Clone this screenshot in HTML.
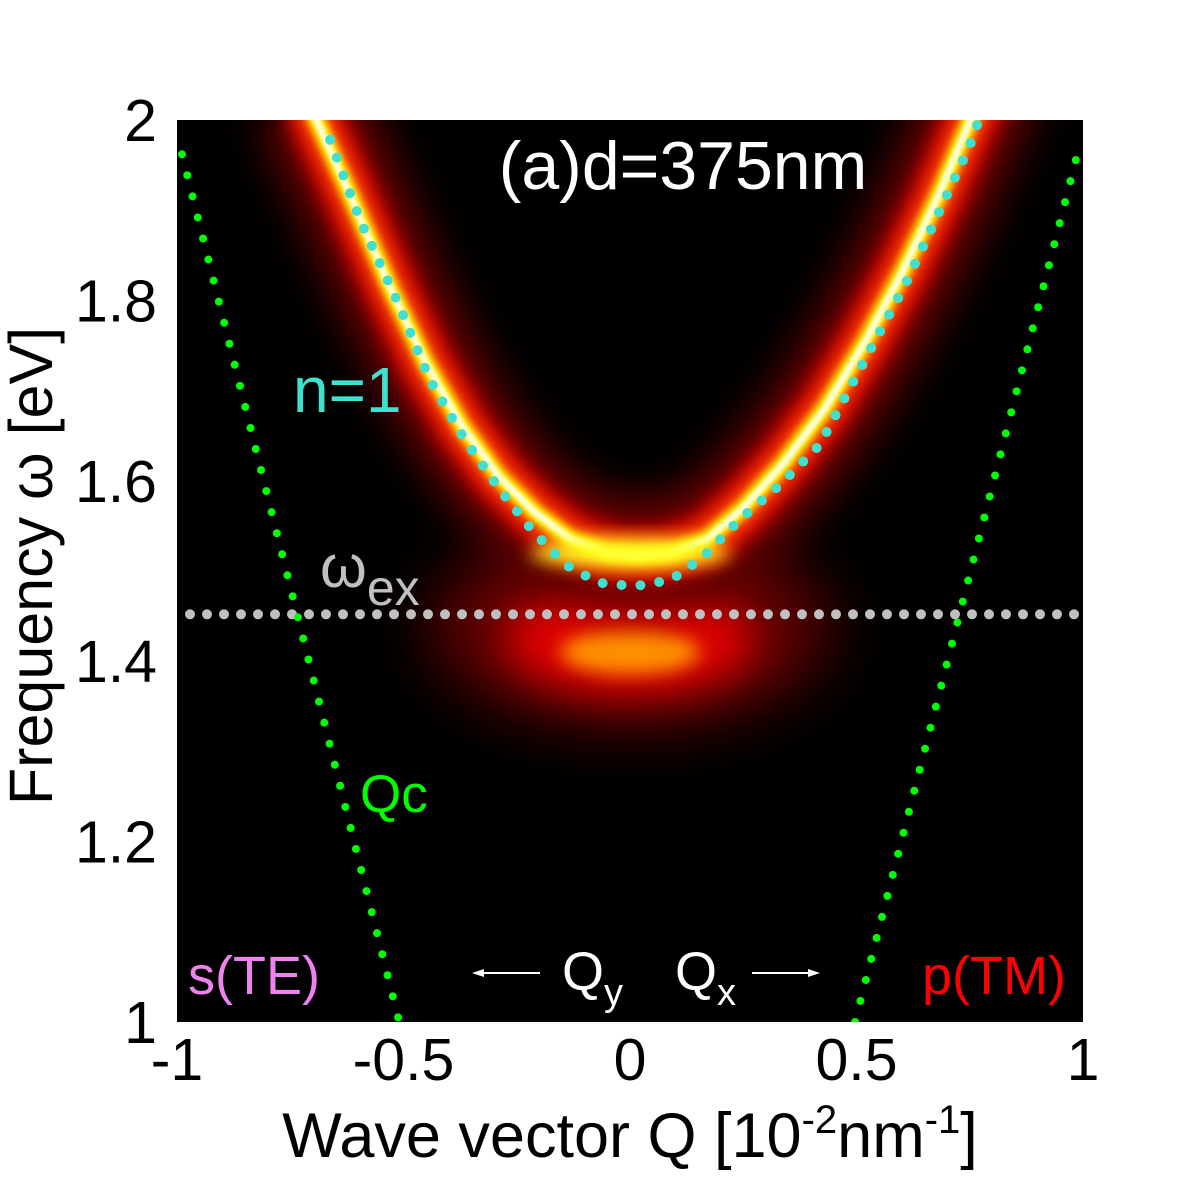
<!DOCTYPE html>
<html><head><meta charset="utf-8"><style>
html,body{margin:0;padding:0;background:#fff;}
svg{display:block;font-family:"Liberation Sans",sans-serif;}
</style></head><body>
<svg id="chart" width="1200" height="1200" viewBox="0 0 1200 1200">
<defs>
<filter id="b30" x="-50%" y="-50%" width="200%" height="200%"><feGaussianBlur stdDeviation="30"/></filter>
<filter id="b20" x="-50%" y="-50%" width="200%" height="200%"><feGaussianBlur stdDeviation="20"/></filter>
<filter id="b10" x="-50%" y="-50%" width="200%" height="200%"><feGaussianBlur stdDeviation="9"/></filter>
<filter id="b4" x="-50%" y="-50%" width="200%" height="200%"><feGaussianBlur stdDeviation="4"/></filter>
<filter id="b2" x="-50%" y="-50%" width="200%" height="200%"><feGaussianBlur stdDeviation="2"/></filter>
<clipPath id="clip"><rect x="177" y="120" width="906" height="902"/></clipPath>
</defs>
<rect x="177" y="120" width="906" height="902" fill="#000"/>
<g id="heat" clip-path="url(#clip)"></g>
<g id="marks" clip-path="url(#clip)"></g>
<g id="ticks" font-size="59" fill="#000"></g>
<text x="630" y="1157" font-size="63" text-anchor="middle">Wave vector Q [10<tspan dy="-24" font-size="40">-2</tspan><tspan dy="24">nm</tspan><tspan dy="-24" font-size="40">-1</tspan><tspan dy="24">]</tspan></text>
<text transform="translate(52,566) rotate(-90)" font-size="61" text-anchor="middle">Frequency ω [eV]</text>
<text x="683" y="189" font-size="68" fill="#fff" text-anchor="middle">(a)d=375nm</text>
<text x="293" y="412" font-size="64" fill="#40e0d0">n=1</text>
<text x="320" y="587" font-size="60" fill="#c0c0c0">ω<tspan dy="18" font-size="50">ex</tspan></text>
<text x="360" y="812" font-size="53" fill="#00ff00">Qc</text>
<text x="188" y="994" font-size="54" fill="#ee82ee">s(TE)</text>
<text x="922" y="994" font-size="54" fill="#ff0000">p(TM)</text>
<g fill="#fff" stroke="#fff">
<line x1="480" y1="973" x2="540" y2="973" stroke-width="2"/><polygon points="472,973 484,969 484,977" stroke="none"/>
<text x="562" y="990" font-size="54" stroke="none">Q<tspan dy="15" font-size="38">y</tspan></text>
<text x="675" y="990" font-size="54" stroke="none">Q<tspan dy="15" font-size="38">x</tspan></text>
<line x1="752" y1="973" x2="812" y2="973" stroke-width="2"/><polygon points="820,973 808,969 808,977" stroke="none"/>
</g>
</svg>
<script>
const xTicks=[-1,-0.5,0,0.5,1];
const xTickLabels=["-1","-0.5","0","0.5","1"];
const yTicks=[1,1.2,1.4,1.6,1.8,2];
const yTickLabels=["1","1.2","1.4","1.6","1.8","2"];
// n=1 dotted curve (Q, omega)
const n1Q=[-0.662,-0.596,-0.512,-0.442,-0.364,-0.287,-0.216,-0.142,-0.07,0.01,0.09,0.16,0.24,0.33,0.419,0.53,0.607,0.684,0.75,0.77];
const n1W=[1.978,1.889,1.797,1.712,1.645,1.590,1.545,1.507,1.487,1.483,1.490,1.515,1.556,1.595,1.640,1.745,1.817,1.900,1.972,2.0];
// bright polariton band (Q, omega)
const bandQ=[-0.71,-0.62,-0.53,-0.45,-0.37,-0.29,-0.21,-0.13,-0.05,0.02,0.09,0.17,0.25,0.34,0.43,0.52,0.60,0.68,0.76,0.80];
const bandW=[2.02,1.92,1.815,1.73,1.66,1.605,1.565,1.535,1.52,1.517,1.52,1.535,1.57,1.62,1.68,1.755,1.83,1.915,2.01,2.05];
// light lines Qc
const qcLeftQ=[-0.989,-0.512];
const qcLeftW=[1.962,1.005];
const qcRightQ=[0.497,0.989];
const qcRightW=[1.0,1.965];
const omegaEx=1.452;
const lowerPeak={q:0,w:1.41};

const X=q=>630+q*453, Y=w=>120+(2-w)*902;
const NS="http://www.w3.org/2000/svg";
function mk(tag,attrs,parent){const e=document.createElementNS(NS,tag);for(const k in attrs)e.setAttribute(k,attrs[k]);parent.appendChild(e);return e;}
function pathFrom(qs,ws){return qs.map((q,i)=>(i?'L':'M')+X(q).toFixed(1)+','+Y(ws[i]).toFixed(1)).join(' ');}

const heat=document.getElementById('heat');
let g0=mk('ellipse',{cx:X(lowerPeak.q),cy:Y(lowerPeak.w)-25,rx:200,ry:100,fill:'#600000',filter:'url(#b30)'},heat);


let g1=mk('ellipse',{cx:X(lowerPeak.q),cy:Y(lowerPeak.w)-12,rx:125,ry:55,fill:'#e00000',filter:'url(#b20)'},heat);


let g2=mk('ellipse',{cx:X(lowerPeak.q),cy:Y(lowerPeak.w),rx:70,ry:22,fill:'#ff9000',filter:'url(#b10)'},heat);


const bandD=pathFrom(bandQ,bandW);
const layers=[[110,'#600000','b20'],[56,'#d00000','b10'],[30,'#ff5000','b10'],[16,'#ffff00','b4'],[6,'#ffffff','b2']];
layers.forEach(l=>{
  const p=mk('path',{d:bandD,fill:'none',stroke:l[1],'stroke-width':l[0],filter:'url(#'+l[2]+')','stroke-linejoin':'round'},heat);
  
  
});
let gy=mk('ellipse',{cx:X(0),cy:Y(1.52),rx:100,ry:14,fill:'#ffff20',filter:'url(#b10)'},heat);



const marks=document.getElementById('marks');
let ex=mk('line',{x1:190,x2:1078,y1:Y(omegaEx),y2:Y(omegaEx),stroke:'#c0c0c0','stroke-width':10,'stroke-linecap':'round','stroke-dasharray':'0 17'},marks);


let qcl=mk('path',{d:pathFrom(qcLeftQ,qcLeftW),fill:'none',stroke:'#00ff00','stroke-width':8,'stroke-linecap':'round','stroke-dasharray':'0 21.7'},marks);


let qcr=mk('path',{d:pathFrom(qcRightQ,qcRightW),fill:'none',stroke:'#00ff00','stroke-width':8,'stroke-linecap':'round','stroke-dasharray':'0 21.7'},marks);


let n1=mk('path',{d:pathFrom(n1Q,n1W),fill:'none',stroke:'#40e0d0','stroke-width':10,'stroke-linecap':'round','stroke-dasharray':'0 19'},marks);



const ticks=document.getElementById('ticks');
xTicks.forEach((v,i)=>{
  const t=mk('text',{x:X(v),y:1080,'text-anchor':'middle'},ticks);t.textContent=xTickLabels[i];
  
  
});
yTicks.forEach((v,i)=>{
  const t=mk('text',{x:157,y:Y(v)+21,'text-anchor':'end'},ticks);t.textContent=yTickLabels[i];
  
  
});
</script>
</body></html>
